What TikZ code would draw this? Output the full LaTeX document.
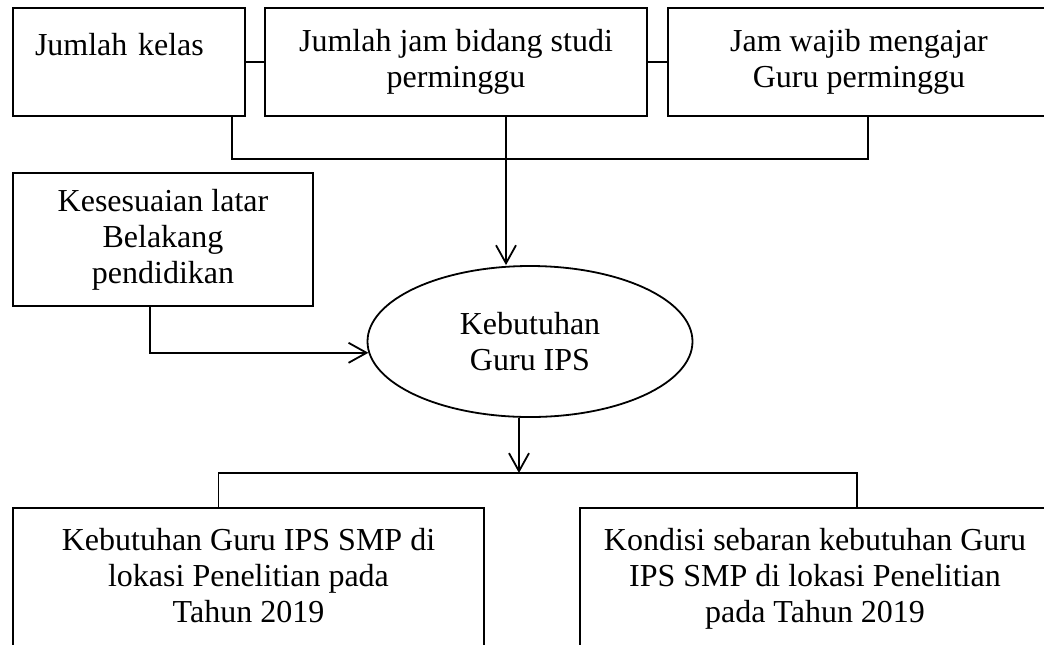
\documentclass[tikz,border=0pt]{standalone}
\usepackage{fontspec}
\setmainfont{Liberation Serif}
\usetikzlibrary{shapes.geometric}
\usetikzlibrary{arrows.meta}

\begin{document}
\begin{tikzpicture}[x=0.5pt, y=-0.5pt, line width=0.9pt,
    font=\fontsize{16pt}{18pt}\selectfont,
    kotak/.style={draw, rectangle, align=center, inner sep=0pt},
    panah/.style={-{Straight Barb[length=9pt, width=10pt]}}]

    \useasboundingbox (0,0) rectangle (1044,644);

    % baris atas
    \node[kotak, minimum width=116pt, minimum height=54pt, text width=94pt, align=left] (kelas) at (129,62) {Jumlah kelas\\~};
    \node[kotak, minimum width=191pt, minimum height=54pt] (jam) at (456,62) {Jumlah jam bidang studi\\perminggu};
    \node[kotak, minimum width=191pt, minimum height=54pt] (wajib) at (859,62) {Jam wajib mengajar\\Guru perminggu};

    \node[kotak, minimum width=150pt, minimum height=66.5pt] (latar) at (163,239.5) {Kesesuaian latar\\Belakang\\pendidikan};
    \node[draw, ellipse, minimum width=162.5pt, minimum height=75.5pt, inner sep=0pt, align=center] (butuh) at (530,341.5) {Kebutuhan\\Guru IPS};

    % baris bawah
    \node[kotak, minimum width=235.5pt, minimum height=72pt, text depth=5pt] (hasil1) at (248.5,580) {Kebutuhan Guru IPS SMP di\\lokasi Penelitian pada\\Tahun 2019};
    \node[kotak, minimum width=235pt, minimum height=72pt, text depth=5pt] (hasil2) at (815,580) {Kondisi sebaran kebutuhan Guru\\IPS SMP di lokasi Penelitian\\pada Tahun 2019};

    \coordinate (bus) at (506,159);
    \coordinate (cabang) at (519,473);

    \draw (kelas.east) -- (jam.west);
    \draw (jam.east) -- (wajib.west);
    \draw ([xshift=-7pt]kelas.south east) |- (bus) -| ([xshift=4.5pt]wajib.south);
    \draw[panah] ([xshift=25pt]jam.south) -- ([xshift=25pt]jam.south |- butuh.north);

    \draw[panah] ([xshift=-6.5pt]latar.south) |- (butuh.184);

    \draw[panah] (butuh.south -| cabang) -- (cabang);
    \draw ([xshift=-15pt]hasil1.north) |- (cabang) -| ([xshift=21pt]hasil2.north);

\end{tikzpicture}
\end{document}
